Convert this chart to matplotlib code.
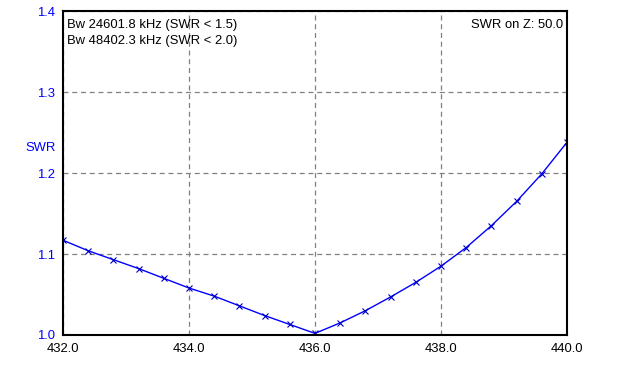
import matplotlib
matplotlib.use('Agg')
import matplotlib.pyplot as plt

# частота, МГц и КСВ
freq = [432.0, 432.4, 432.8, 433.2, 433.6, 434.0, 434.4, 434.8, 435.2, 435.6, 436.0,
        436.4, 436.8, 437.2, 437.6, 438.0, 438.4, 438.8, 439.2, 439.6, 440.0]
swr = [1.117, 1.104, 1.093, 1.082, 1.070, 1.058, 1.048, 1.036, 1.024, 1.013, 1.002,
       1.015, 1.030, 1.047, 1.065, 1.085, 1.108, 1.135, 1.165, 1.199, 1.238]
xticks = [432.0, 434.0, 436.0, 438.0, 440.0]
yticks = [1.0, 1.1, 1.2, 1.3, 1.4]

plt.rcParams['font.family'] = ['Liberation Sans', 'DejaVu Sans']
plt.rcParams['font.size'] = 9.4

fig = plt.figure(figsize=(6.26, 3.66), dpi=100)
ax = fig.add_axes([0.1006, 0.0847, 0.8052, 0.8852])

ax.plot(freq, swr, color='blue', linewidth=1, marker='x', markersize=5,
        markeredgewidth=0.8, markeredgecolor='#0000c0')

ax.set_xlim(432, 440)
ax.set_ylim(1.0, 1.4)
ax.set_xticks(xticks)
ax.set_xticklabels([f'{v:.1f}' for v in xticks])
ax.set_yticks(yticks)
ax.set_yticklabels([f'{v:.1f}' for v in yticks], color='blue')
ax.tick_params(length=0, pad=6)
ax.grid(True, color='#808080', linestyle=(0, (4, 3)), linewidth=0.9)
for s in ax.spines.values():
    s.set_linewidth(1.5)

fig.text(0.04, 0.595, 'SWR', color='blue', ha='left', va='center')
ax.text(0.007, 0.958, 'Bw 24601.8 kHz (SWR < 1.5)', transform=ax.transAxes, va='center')
ax.text(0.007, 0.908, 'Bw 48402.3 kHz (SWR < 2.0)', transform=ax.transAxes, va='center')
ax.text(0.992, 0.958, 'SWR on Z: 50.0', transform=ax.transAxes, va='center', ha='right')

plt.savefig('out.png', dpi=100)
